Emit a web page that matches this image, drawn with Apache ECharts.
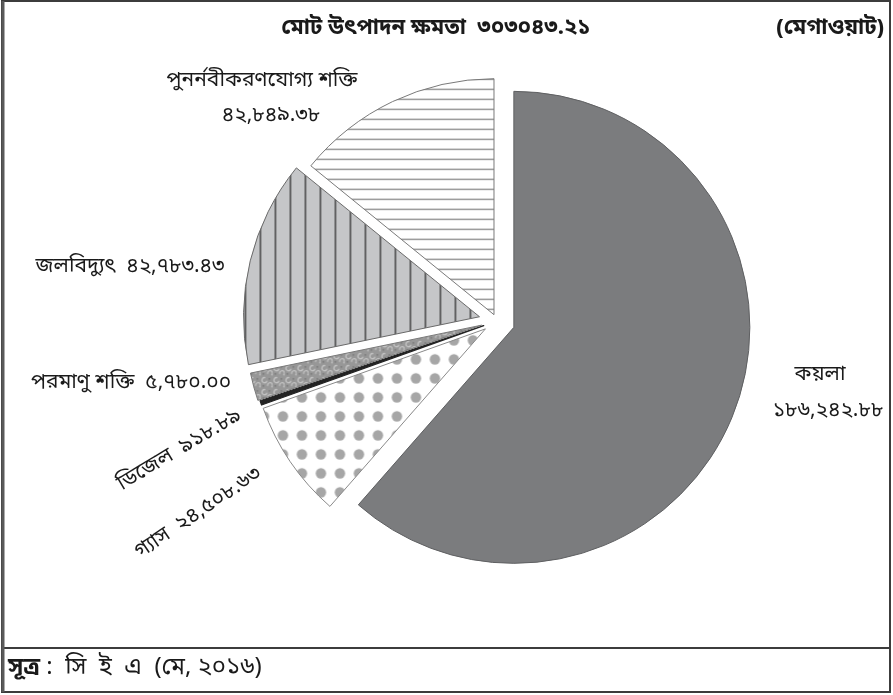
<!DOCTYPE html>
<html>
<head>
<meta charset="utf-8">
<script src="https://cdn.jsdelivr.net/npm/echarts@6/dist/echarts.min.js"></script>
<style>
  html, body { margin: 0; padding: 0; background: #ffffff; }
  #chart { width: 893px; height: 695px; }
</style>
</head>
<body>
<div id="chart"></div>
<script>
// Installed capacity by fuel source (MW)
const sources = ['কয়লা', 'গ্যাস', 'ডিজেল', 'পরমাণু শক্তি', 'জলবিদ্যুৎ', 'পুনর্নবীকরণযোগ্য শক্তি'];
const capacityMW = [186242.88, 24508.63, 918.89, 5780.00, 42783.43, 42849.38];
const totalCapacityMW = 303043.21;
const titleText = 'মোট উৎপাদন ক্ষমতা';
const unitText = '(মেগাওয়াট)';
const sourceLabel = 'সূত্র';
const sourceText = ' :  সি  ই  এ  (মে, ২০১৬)';

const FONT = "'Noto Sans Bengali', 'Noto Serif Bengali', 'Lohit Bengali', 'FreeSerif', 'Noto Sans', sans-serif";

// Bengali numerals
const bnDigits = '০১২৩৪৫৬৭৮৯';
const toBn = s => String(s).replace(/[0-9]/g, d => bnDigits[+d]);
const fmtMW = v => toBn(v.toLocaleString('en-US', { minimumFractionDigits: 2, maximumFractionDigits: 2 }));

// Pie geometry and per-slice explosion distance
const PIE_CENTER = [497, 321];
const PIE_RADIUS = 236;
const explode = [18, 14, 14, 16, 18, 7];

// Label placement per slice: either one line, or name and value on separate lines
const labelSpots = [
  { name: [820, 376], value: [828, 412] },
  { line: [199, 514], rotate: 34 },
  { line: [180, 451], rotate: 31 },
  { line: [131, 384], rotate: 0 },
  { line: [130, 268], rotate: 0 },
  { name: [262, 82], value: [271, 117] }
];
const LABEL_SIZE = 21;

// Fill textures
function makePattern(w, h, draw) {
  const c = document.createElement('canvas');
  c.width = w; c.height = h;
  draw(c.getContext('2d'), w, h);
  return { image: c, repeat: 'repeat' };
}
const fills = [
  '#7b7c7e',
  makePattern(19, 19, (g, w, h) => {
    g.fillStyle = '#ffffff'; g.fillRect(0, 0, w, h);
    g.fillStyle = '#a6a6a6';
    g.beginPath(); g.arc(9.5, 9.5, 5.2, 0, Math.PI * 2); g.fill();
  }),
  '#232323',
  makePattern(12, 12, (g, w, h) => {
    g.fillStyle = '#979797'; g.fillRect(0, 0, w, h);
    g.strokeStyle = '#cbcbcb'; g.lineWidth = 1.1;
    g.beginPath(); g.arc(4, 4, 2.6, 0.3, Math.PI * 1.6); g.stroke();
    g.beginPath(); g.arc(9.5, 9, 2.4, Math.PI * 0.9, Math.PI * 2.3); g.stroke();
    g.fillStyle = '#777777';
    g.fillRect(8, 2, 1.5, 1.5); g.fillRect(2, 9, 1.5, 1.5);
  }),
  makePattern(15, 4, (g, w, h) => {
    g.fillStyle = '#c5c6c8'; g.fillRect(0, 0, w, h);
    g.fillStyle = '#4d4d4d'; g.fillRect(7, 0, 1.6, h);
  }),
  makePattern(4, 10, (g, w, h) => {
    g.fillStyle = '#ffffff'; g.fillRect(0, 0, w, h);
    g.fillStyle = '#7d7d7d'; g.fillRect(0, 5, w, 1.2);
  })
];
const outlineColor = ['#5f6062', '#8a8a8a', '#232323', '#7a7a7a', '#6a6a6a', '#7a7a7a'];
const outlineWidth = [1, 1, 1.2, 1, 1, 1];

const hidden = { color: 'rgba(0,0,0,0)', borderWidth: 0 };

// One pie layer per source so each slice can be pulled out by its own distance
const series = sources.map((name, i) => ({
  type: 'pie',
  center: PIE_CENTER,
  radius: PIE_RADIUS,
  startAngle: 90,
  clockwise: true,
  selectedMode: 'multiple',
  selectedOffset: explode[i],
  silent: true,
  animation: false,
  emphasis: { disabled: true },
  label: { show: false },
  labelLine: { show: false },
  data: sources.map((n, j) => ({
    name: n,
    value: capacityMW[j],
    selected: j === i,
    itemStyle: j === i
      ? { color: fills[i], borderColor: outlineColor[i], borderWidth: outlineWidth[i] }
      : hidden
  }))
}));

// Slice labels: name and value, built from the same arrays as the slices
const labelFont = LABEL_SIZE + 'px ' + FONT;
const labelGraphics = [];
sources.forEach((name, i) => {
  const spot = labelSpots[i];
  const value = fmtMW(capacityMW[i]);
  if (spot.line) {
    labelGraphics.push({
      type: 'text', x: spot.line[0], y: spot.line[1],
      rotation: (spot.rotate || 0) * Math.PI / 180,
      style: { text: name + '  ' + value, font: labelFont, fill: '#1a1a1a', align: 'center', verticalAlign: 'middle' }
    });
  } else {
    labelGraphics.push({
      type: 'text', x: spot.name[0], y: spot.name[1],
      style: { text: name, font: labelFont, fill: '#1a1a1a', align: 'center', verticalAlign: 'middle' }
    });
    labelGraphics.push({
      type: 'text', x: spot.value[0], y: spot.value[1],
      style: { text: value, font: labelFont, fill: '#1a1a1a', align: 'center', verticalAlign: 'middle' }
    });
  }
});

const chart = echarts.init(document.getElementById('chart'), null, { renderer: 'canvas' });
chart.setOption({
  backgroundColor: '#ffffff',
  animation: false,
  series: series,
  graphic: [
    { type: 'rect', shape: { x: 2, y: 1, width: 888, height: 691 },
      style: { fill: 'none', stroke: '#3c3c3c', lineWidth: 2 } },
    { type: 'line', shape: { x1: 2, y1: 648, x2: 890, y2: 648 },
      style: { stroke: '#3c3c3c', lineWidth: 2 } },
    { type: 'line', shape: { x1: 3, y1: 1, x2: 3, y2: 692 },
      style: { stroke: '#5a5a5a', lineWidth: 3 } },
    { type: 'text', x: 436, y: 30,
      style: { text: titleText + '  ' + toBn(totalCapacityMW.toFixed(2)),
               font: 'bold 22px ' + FONT, fill: '#1a1a1a', align: 'center', verticalAlign: 'middle' } },
    { type: 'text', x: 884, y: 30,
      style: { text: unitText, font: 'bold 22px ' + FONT, fill: '#1a1a1a', align: 'right', verticalAlign: 'middle' } },
    { type: 'text', x: 8, y: 669,
      style: { text: '{b|' + sourceLabel + '}' + sourceText,
               font: '24px ' + FONT, fill: '#1a1a1a', verticalAlign: 'middle',
               rich: { b: { fontWeight: 'bold', fontSize: 24, fontFamily: FONT } } } }
  ].concat(labelGraphics)
});
</script>
</body>
</html>
